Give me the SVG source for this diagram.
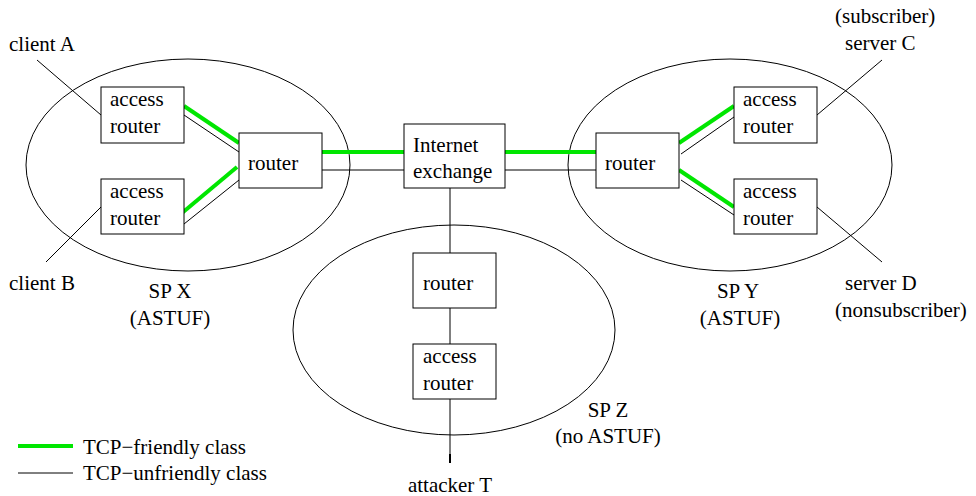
<svg xmlns="http://www.w3.org/2000/svg" width="976" height="496" viewBox="0 0 976 496" font-family="'Liberation Serif', 'Nimbus Roman', 'Noto Serif', FreeSerif, 'DejaVu Serif', 'Times New Roman', serif" font-size="21">
<style>
.box{fill:#fff;stroke:#000;stroke-width:1}
.sp{fill:none;stroke:#000;stroke-width:1}
.u{stroke:#000;stroke-width:1;fill:none}
.f{stroke:#00e600;stroke-width:4;fill:none}
.m{text-anchor:middle}
</style>
<rect width="976" height="496" fill="#fff"/>
<g id="regions">
<ellipse id="spx" class="sp" cx="188" cy="165" rx="162" ry="106"/>
<ellipse id="spy" class="sp" cx="730" cy="165" rx="162" ry="106"/>
<ellipse id="spz" class="sp" cx="454" cy="330" rx="161" ry="105"/>
</g>
<g id="connectors">
<line class="u" x1="37" y1="60" x2="101" y2="115"/>
<line class="u" x1="46" y1="262" x2="101" y2="207"/>
<line class="f" x1="184" y1="106" x2="239" y2="143"/>
<line class="u" x1="184" y1="115" x2="239" y2="152"/>
<line class="f" x1="182" y1="213" x2="237" y2="167"/>
<line class="u" x1="184" y1="224" x2="239" y2="180"/>
<line class="f" x1="322" y1="152" x2="404" y2="152"/>
<line class="u" x1="322" y1="170" x2="404" y2="170"/>
<line class="f" x1="505" y1="152" x2="596" y2="152"/>
<line class="u" x1="505" y1="170" x2="596" y2="170"/>
<line class="f" x1="679" y1="143" x2="734" y2="106"/>
<line class="u" x1="681" y1="154" x2="734" y2="117"/>
<line class="f" x1="679" y1="170" x2="734" y2="207"/>
<line class="u" x1="681" y1="180" x2="734" y2="215"/>
<line class="u" x1="817" y1="115" x2="882" y2="60"/>
<line class="u" x1="817" y1="207" x2="882" y2="262"/>
<line class="u" x1="450" y1="188" x2="450" y2="455"/>
<line x1="450" y1="454" x2="450" y2="463" stroke="#000" stroke-width="2"/>
</g>
<g id="accessA"><rect class="box" x="101" y="87" width="83" height="56"/><text x="110" y="106">access</text><text x="110" y="133">router</text></g>
<g id="accessB"><rect class="box" x="101" y="179" width="83" height="55"/><text x="110" y="198">access</text><text x="110" y="225">router</text></g>
<g id="routerX"><rect class="box" x="239" y="133" width="83" height="55"/><text x="248" y="170">router</text></g>
<g id="ix"><rect class="box" x="404" y="124" width="101" height="64"/><text x="413" y="152">Internet</text><text x="413" y="178">exchange</text></g>
<g id="routerY"><rect class="box" x="596" y="133" width="83" height="55"/><text x="605" y="170">router</text></g>
<g id="accessC"><rect class="box" x="734" y="87" width="83" height="56"/><text x="743" y="106">access</text><text x="743" y="133">router</text></g>
<g id="accessD"><rect class="box" x="734" y="179" width="83" height="55"/><text x="743" y="198">access</text><text x="743" y="225">router</text></g>
<g id="routerZ"><rect class="box" x="413" y="253" width="83" height="55"/><text x="423" y="290">router</text></g>
<g id="accessZ"><rect class="box" x="413" y="344" width="83" height="55"/><text x="423" y="363">access</text><text x="423" y="390">router</text></g>
<g id="labels">
<text x="9" y="51">client A</text>
<text x="9" y="290">client B</text>
<text x="170" y="298" class="m">SP X</text>
<text x="170" y="325" class="m">(ASTUF)</text>
<text x="738" y="298" class="m">SP Y</text>
<text x="740" y="325" class="m">(ASTUF)</text>
<text x="835" y="23">(subscriber)</text>
<text x="845" y="50">server C</text>
<text x="845" y="290">server D</text>
<text x="835" y="317">(nonsubscriber)</text>
<text x="608" y="417" class="m">SP Z</text>
<text x="608" y="443" class="m">(no ASTUF)</text>
<text x="450" y="492" class="m">attacker T</text>
</g>
<g id="legend">
<line class="f" x1="18" y1="446" x2="73" y2="446"/>
<line class="u" x1="18" y1="473" x2="73" y2="473"/>
<text x="83" y="454">TCP−friendly class</text>
<text x="83" y="480">TCP−unfriendly class</text>
</g>
</svg>
